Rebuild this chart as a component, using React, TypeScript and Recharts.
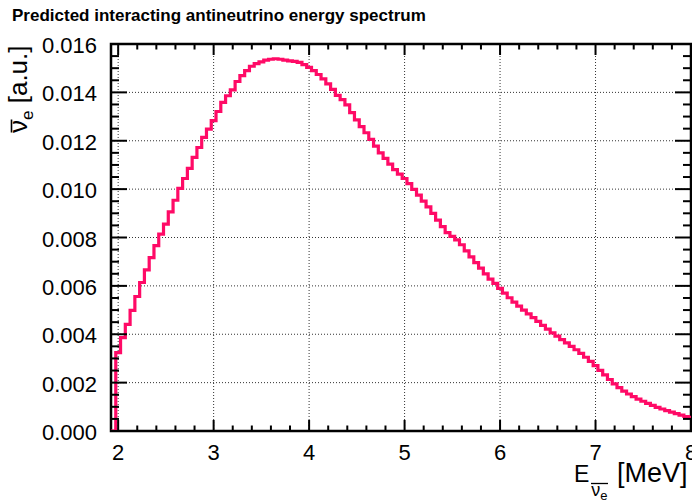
import { LineChart, Line, XAxis, YAxis, CartesianGrid, ReferenceArea } from 'recharts';

// layout of the ROOT-like canvas
const W = 692;
const H = 503;
const PLOT_LEFT = 111;
const PLOT_TOP = 44;
const PLOT_W = 580;
const PLOT_H = 387;
const FONT = '"Liberation Sans", Arial, Helvetica, sans-serif';

// x axis (MeV)
const xRange = [1.925, 8];
const xMajorTicks = [2, 3, 4, 5, 6, 7, 8];
const xMinorStep = 0.2;

// y axis (a.u.)
const yRange = [0, 0.016];
const yMajorTicks = [0, 0.002, 0.004, 0.006, 0.008, 0.01, 0.012, 0.014, 0.016];
const yTickLabels = ['0.000', '0.002', '0.004', '0.006', '0.008', '0.010', '0.012', '0.014', '0.016'];
const yMinorStep = 0.0005;

// histogram binning: 0.05 MeV bins starting at 1.975 MeV
const binLowEdge = 1.975;
const binWidth = 0.05;

// bin contents
const spectrum = [
  0.00324, 0.00386, 0.00441, 0.00499, 0.00556, 0.00614, 0.00666, 0.00717, 0.00766, 0.00814,
  0.00855, 0.00906, 0.00954, 0.01003, 0.01044, 0.01086, 0.01131, 0.01172, 0.01214, 0.01248,
  0.01283, 0.01321, 0.01359, 0.01386, 0.0141, 0.01445, 0.01469, 0.0149, 0.01508, 0.01519,
  0.01526, 0.01533, 0.01537, 0.01539, 0.01537, 0.01533, 0.0153, 0.01528, 0.01524, 0.01515,
  0.01503, 0.0149, 0.01474, 0.01456, 0.01435, 0.01412, 0.01388, 0.0137, 0.01348, 0.01316,
  0.01286, 0.01258, 0.01233, 0.01206, 0.01178, 0.0115, 0.01127, 0.01103, 0.01081, 0.01062,
  0.01044, 0.01023, 0.00999, 0.00975, 0.0095, 0.00927, 0.009, 0.00872, 0.00845, 0.0082,
  0.00805, 0.0079, 0.0077, 0.00745, 0.0072, 0.00696, 0.00673, 0.0065, 0.00628, 0.0061,
  0.0059, 0.0057, 0.00551, 0.00533, 0.00516, 0.005, 0.00484, 0.00469, 0.00453, 0.00437,
  0.00421, 0.00406, 0.00392, 0.00378, 0.00364, 0.0035, 0.00336, 0.00321, 0.00305, 0.00288,
  0.0027, 0.00251, 0.00232, 0.00213, 0.00195, 0.00179, 0.00165, 0.00153, 0.00142, 0.00132,
  0.00123, 0.00114, 0.00106, 0.00098, 0.00091, 0.00084, 0.00078, 0.00072, 0.00066, 0.0006,
  0.00055,
];

const histData = [
  { e: xRange[0], v: 0 },
  ...spectrum.map((v, i) => ({ e: +(binLowEdge + i * binWidth).toFixed(3), v })),
  { e: xRange[1], v: spectrum[spectrum.length - 1] },
];

const xTicks: number[] = [];
for (let t = xMajorTicks[0]; t <= xRange[1] + 1e-9; t += xMinorStep) xTicks.push(+t.toFixed(3));
const yTicks: number[] = [];
for (let t = yRange[0]; t <= yRange[1] + 1e-9; t += yMinorStep) yTicks.push(+t.toFixed(5));

const isMajor = (v: number, list: number[]) => list.some((m) => Math.abs(m - v) < 1e-7);

const XTick = (props: any) => {
  const { x, y, payload } = props;
  const major = isMajor(payload.value, xMajorTicks);
  const len = major ? 11 : 5.5;
  return (
    <g>
      <line x1={x} x2={x} y1={y} y2={y - len} stroke="#000" strokeWidth={2} />
      <line x1={x} x2={x} y1={y - PLOT_H} y2={y - PLOT_H + len} stroke="#000" strokeWidth={2} />
      {major && (
        <text x={x} y={y + 29} textAnchor="middle" fontSize={22} fontFamily={FONT} fill="#000">
          {Math.round(payload.value)}
        </text>
      )}
    </g>
  );
};

const YTick = (props: any) => {
  const { x, y, payload } = props;
  const idx = yMajorTicks.findIndex((m) => Math.abs(m - payload.value) < 1e-7);
  const len = idx >= 0 ? 16 : 8;
  return (
    <g>
      <line x1={x} x2={x + len} y1={y} y2={y} stroke="#000" strokeWidth={2} />
      <line x1={x + PLOT_W} x2={x + PLOT_W - len} y1={y} y2={y} stroke="#000" strokeWidth={2} />
      {idx >= 0 && (
        <text x={x - 14} y={y + 9} textAnchor="end" fontSize={22} fontFamily={FONT} fill="#000">
          {yTickLabels[idx]}
        </text>
      )}
    </g>
  );
};

export default function App() {
  return (
    <div style={{ position: 'absolute', left: 0, top: 0, width: W, height: H, background: '#fff' }}>
      <LineChart
        width={W}
        height={H}
        data={histData}
        margin={{ top: PLOT_TOP, right: W - PLOT_LEFT - PLOT_W, bottom: 0, left: 0 }}
      >
        <CartesianGrid
          stroke="#333"
          strokeDasharray="1 2"
          verticalValues={xMajorTicks}
          horizontalValues={yMajorTicks}
        />
        <XAxis
          type="number"
          dataKey="e"
          domain={xRange}
          allowDataOverflow
          ticks={xTicks}
          interval={0}
          tick={<XTick />}
          tickLine={false}
          axisLine={false}
          tickSize={0}
          tickMargin={0}
          height={H - PLOT_TOP - PLOT_H}
        />
        <YAxis
          type="number"
          domain={yRange}
          allowDataOverflow
          ticks={yTicks}
          interval={0}
          tick={<YTick />}
          tickLine={false}
          axisLine={false}
          tickSize={0}
          tickMargin={0}
          width={PLOT_LEFT}
        />
        <Line
          type="stepAfter"
          dataKey="v"
          stroke="#ff0a66"
          strokeWidth={3.2}
          dot={false}
          isAnimationActive={false}
        />
        <ReferenceArea
          x1={xRange[0]}
          x2={xRange[1]}
          y1={yRange[0]}
          y2={yRange[1]}
          fill="none"
          stroke="#000"
          strokeWidth={2.5}
        />
      </LineChart>
      <svg
        width={W}
        height={H}
        style={{ position: 'absolute', left: 0, top: 0, pointerEvents: 'none' }}
        fontFamily={FONT}
      >
        <text x={12} y={21} fontSize={17} fontWeight="bold" fill="#000">
          Predicted interacting antineutrino energy spectrum
        </text>
        {/* x title: E with anti-nu_e subscript */}
        <g transform="translate(574, 482)">
          <text x={0} y={0} fontSize={23} fill="#000">
            E
            <tspan dx={2} dy={14} fontSize={18}>ν</tspan>
            <tspan dy={4} fontSize={13}>e</tspan>
            <tspan dx={2} dy={-18} fontSize={27}> [MeV]</tspan>
          </text>
          <line x1={17} x2={34} y1={1.5} y2={1.5} stroke="#000" strokeWidth={1.3} />
        </g>
        {/* y title: anti-nu_e [a.u.] */}
        <g transform="translate(27, 133) rotate(-90)">
          <text x={0} y={0} fontSize={26} fill="#000">
            ν
            <tspan dy={6} fontSize={17}>e</tspan>
            <tspan dy={-6} fontSize={26}> [a.u.]</tspan>
          </text>
          <line x1={0.5} x2={13.5} y1={-15.5} y2={-15.5} stroke="#000" strokeWidth={1.6} />
        </g>
      </svg>
    </div>
  );
}
